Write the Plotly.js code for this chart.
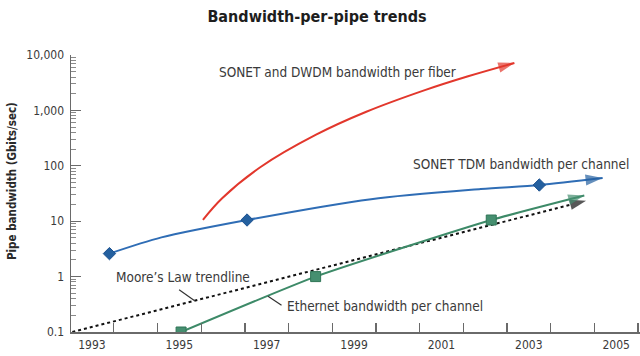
<!DOCTYPE html>
<html>
<head>
<meta charset="utf-8">
<script src="https://cdn.plot.ly/plotly-3.0.1.min.js"></script>
<style>html,body{margin:0;padding:0;background:#fff;}#chart{width:640px;height:356px;}</style>
</head>
<body>
<div id="chart"></div>
<script>
// ---- data ----
const fiberYears = [1995.54, 1995.98, 1996.86, 1998.13, 1999.28, 2000.62, 2001.61, 2002.67];
const fiberGbps  = [10.6, 26, 95, 364, 944, 2320, 4130, 7170];

const tdmYears = [1993.40, 1994.59, 1996.55, 1999.39, 2001.90, 2003.24, 2004.69];
const tdmGbps  = [2.6, 5.1, 10.5, 25, 38, 45, 60];
const tdmMilestoneIdx = [0, 2, 5];

const ethYears = [1995.04, 1998.12, 2002.14, 2004.27];
const ethGbps  = [0.1, 1.0, 10.5, 29];
const ethMilestoneIdx = [0, 1, 2];

const mooreYears = [1992.55, 2004.31];
const mooreGbps  = [0.1, 23.4];

const yTickVals = [0.1, 1, 10, 100, 1000, 10000];
const yTickText = ['0.1', '1', '10', '100', '1,000', '10,000'];
const xTickVals = [1993, 1995, 1997, 1999, 2001, 2003, 2005];
const xTickText = ['1993', '1995', '1997', '1999', '2001', '2003', '2005'];

const labelFiber = 'SONET and DWDM bandwidth per fiber';
const labelTdm = 'SONET TDM bandwidth per channel';
const labelMoore = 'Moore\u2019s Law trendline';
const labelEth = 'Ethernet bandwidth per channel';
const chartTitle = 'Bandwidth-per-pipe trends';
const yTitle = 'Pipe bandwidth (Gbits/sec)';

// ---- styling ----
const FONT = '"Liberation Sans Narrow", "DejaVu Sans Condensed", "Arial Narrow", "Roboto", sans-serif';
const RED = '#e2372c', BLUE = '#2f6db5', BLUE_D = '#24609f', GREEN = '#3d8a68', GREEN_D = '#468f70', TXT = '#3a3a3a';

function arrowMarker(n, color, size) {
  const sizes = [], syms = [];
  for (let i = 0; i < n; i++) { syms.push('arrow'); sizes.push(i === n - 1 ? size : 0); }
  return {symbol: syms, size: sizes, color: color, angleref: 'previous', line: {width: 0}};
}
function pick(arr, idx) { return idx.map(i => arr[i]); }
function interpLog(xs, ys, x) {
  for (let i = 0; i < xs.length - 1; i++) {
    if (x >= xs[i] && x <= xs[i + 1]) {
      const f = (x - xs[i]) / (xs[i + 1] - xs[i]);
      return Math.log10(ys[i]) + f * (Math.log10(ys[i + 1]) - Math.log10(ys[i]));
    }
  }
  return Math.log10(ys[ys.length - 1]);
}

const traces = [
  {x: fiberYears, y: fiberGbps, mode: 'lines+markers', line: {color: RED, width: 2, shape: 'spline', smoothing: 1, backoff: 'auto'},
   marker: arrowMarker(fiberYears.length, RED, 17), hoverinfo: 'skip'},
  {x: tdmYears, y: tdmGbps, mode: 'lines+markers', line: {color: BLUE, width: 2, shape: 'spline', smoothing: 0.8, backoff: 'auto'},
   marker: arrowMarker(tdmYears.length, BLUE_D, 18), hoverinfo: 'skip'},
  {x: pick(tdmYears, tdmMilestoneIdx), y: pick(tdmGbps, tdmMilestoneIdx), mode: 'markers',
   marker: {symbol: 'diamond', size: 9.5, color: BLUE_D, line: {color: '#1d5290', width: 1}}, hoverinfo: 'skip'},
  {x: mooreYears, y: mooreGbps, mode: 'lines+markers', line: {color: '#111', width: 2, dash: '3px,3px', backoff: 'auto'},
   marker: arrowMarker(mooreYears.length, '#111', 17), hoverinfo: 'skip'},
  {x: ethYears, y: ethGbps, mode: 'lines+markers', line: {color: GREEN, width: 2, shape: 'spline', smoothing: 0.5, backoff: 'auto'},
   marker: arrowMarker(ethYears.length, GREEN_D, 17), hoverinfo: 'skip'},
  {x: pick(ethYears, ethMilestoneIdx), y: pick(ethGbps, ethMilestoneIdx), mode: 'markers',
   marker: {symbol: 'square', size: 10, color: GREEN_D, line: {color: '#2f7556', width: 1}}, hoverinfo: 'skip'}
];

const minorY = [];
for (let e = -1; e < 4; e++) for (let d = 2; d <= 9; d++) minorY.push(d * Math.pow(10, e));
const minorX = [];
for (let yr = 1993; yr <= 2005; yr++) minorX.push(yr + 0.5);

const mooreLeaderX = 1995.35, ethLeaderX = 1997.03;
const LBL = 13.5;

const layout = {
  width: 640, height: 356,
  margin: {l: 71, r: 0, t: 55, b: 24, pad: 0},
  paper_bgcolor: '#fff', plot_bgcolor: '#fff',
  showlegend: false,
  font: {family: FONT, color: TXT, size: 12},
  title: {text: chartTitle, x: 317 / 640, xanchor: 'center', xref: 'container', y: 1 - 16 / 356, yanchor: 'middle', yref: 'container',
          font: {family: FONT, size: 16, weight: 'bold', color: '#1e1e1e'}},
  xaxis: {range: [1992.52, 2005.545], showgrid: false, zeroline: false, showline: true, linecolor: '#6a6a6a', linewidth: 1.5,
          tickvals: xTickVals, ticktext: xTickText, ticks: '', ticklabelstandoff: 1,
          tickfont: {family: FONT, size: 12, color: TXT},
          minor: {tickvals: minorX, ticks: 'inside', ticklen: 9, tickcolor: '#6a6a6a', tickwidth: 1.3, showgrid: false}},
  yaxis: {type: 'log', range: [-1, 4], showgrid: false, zeroline: false, showline: true, linecolor: '#6a6a6a', linewidth: 1.5,
          tickvals: yTickVals, ticktext: yTickText, ticks: 'inside', ticklen: 10, tickcolor: '#6a6a6a', tickwidth: 1.3,
          ticklabelstandoff: 3, tickfont: {family: FONT, size: 12, color: TXT},
          minor: {tickvals: minorY, ticks: 'inside', ticklen: 5, tickcolor: '#8a8a8a', tickwidth: 1, showgrid: false}},
  annotations: [
    {text: labelFiber, xref: 'paper', yref: 'paper', x: (337 - 71) / 569, y: (332 - 72) / 277, xanchor: 'center', yanchor: 'middle',
     showarrow: false, font: {family: FONT, size: LBL, color: TXT}},
    {text: labelTdm, xref: 'paper', yref: 'paper', x: (521 - 71) / 569, y: (332 - 164) / 277, xanchor: 'center', yanchor: 'middle',
     showarrow: false, font: {family: FONT, size: LBL, color: TXT}},
    {text: labelMoore, xref: 'paper', yref: 'paper', x: (183 - 71) / 569, y: (332 - 277) / 277, xanchor: 'center', yanchor: 'middle',
     showarrow: false, font: {family: FONT, size: LBL, color: TXT}},
    {text: labelEth, xref: 'paper', yref: 'paper', x: (285 - 71) / 569, y: (332 - 306) / 277, xanchor: 'left', yanchor: 'middle',
     showarrow: false, font: {family: FONT, size: LBL, color: TXT}},
    {text: yTitle, xref: 'paper', yref: 'paper', x: (12 - 71) / 569, y: (332 - 181) / 277, xanchor: 'center', yanchor: 'middle',
     textangle: -90, showarrow: false, font: {family: FONT, size: 11.5, weight: 'bold', color: '#2a2a2a'}},
    // leader lines
    {text: '', x: mooreLeaderX, y: interpLog(mooreYears, mooreGbps, mooreLeaderX), xref: 'x', yref: 'y',
     showarrow: true, arrowhead: 0, arrowwidth: 1.2, arrowcolor: '#333', ax: -17, ay: -12, standoff: 0, startstandoff: 0},
    {text: '', x: ethLeaderX, y: interpLog(ethYears, ethGbps, ethLeaderX), xref: 'x', yref: 'y',
     showarrow: true, arrowhead: 0, arrowwidth: 1.2, arrowcolor: '#333', ax: 15, ay: 10, standoff: 0, startstandoff: 0}
  ]
};

Plotly.newPlot('chart', traces, layout, {displayModeBar: false, staticPlot: true});
</script>
</body>
</html>
